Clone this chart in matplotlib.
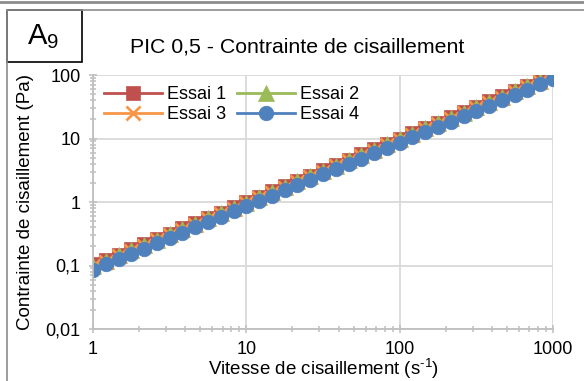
import matplotlib
matplotlib.use("Agg")
import matplotlib.pyplot as plt
from matplotlib.lines import Line2D
from matplotlib.patches import Rectangle
from matplotlib.ticker import LogLocator, FixedLocator, NullFormatter

plt.rcParams['font.family'] = ['Liberation Sans', 'DejaVu Sans']
plt.rcParams['mathtext.fontset'] = 'custom'
plt.rcParams['mathtext.rm'] = 'Liberation Sans'
plt.rcParams['mathtext.it'] = 'Liberation Sans'

# shear rate (1/s), about 12 points per decade
shear_rate = [1, 1.21, 1.47, 1.78, 2.15, 2.61, 3.16, 3.83, 4.64, 5.62, 6.81, 8.25,
              10, 12.1, 14.7, 17.8, 21.5, 26.1, 31.6, 38.3, 46.4, 56.2, 68.1, 82.5,
              100, 121, 147, 178, 215, 261, 316, 383, 464, 562, 681, 825, 1000]

# shear stress (Pa) per trial
essai_1 = [0.104, 0.122, 0.148, 0.179, 0.216, 0.262, 0.317, 0.384, 0.465, 0.563, 0.682, 0.826,
           1.0, 1.21, 1.47, 1.78, 2.15, 2.61, 3.16, 3.83, 4.64, 5.62, 6.81, 8.25,
           10.0, 12.1, 14.7, 17.8, 21.5, 26.1, 31.6, 38.3, 46.4, 56.2, 68.1, 82.5, 99.0]
essai_2 = [0.1, 0.119, 0.144, 0.174, 0.211, 0.256, 0.31, 0.375, 0.455, 0.551, 0.667, 0.809,
           0.98, 1.19, 1.44, 1.74, 2.11, 2.56, 3.1, 3.75, 4.55, 5.51, 6.67, 8.09,
           9.8, 11.9, 14.4, 17.4, 21.1, 25.6, 31.0, 37.5, 45.5, 55.1, 66.7, 80.9, 97.5]
essai_3 = [0.097, 0.115, 0.14, 0.169, 0.204, 0.248, 0.3, 0.364, 0.441, 0.534, 0.647, 0.784,
           0.95, 1.15, 1.4, 1.69, 2.04, 2.48, 3.0, 3.64, 4.41, 5.34, 6.47, 7.84,
           9.5, 11.5, 14.0, 16.9, 20.4, 24.8, 30.0, 36.4, 44.1, 53.4, 64.7, 78.4, 94.5]
essai_4 = [0.086, 0.104, 0.126, 0.153, 0.185, 0.224, 0.272, 0.329, 0.399, 0.483, 0.586, 0.71,
           0.86, 1.04, 1.26, 1.53, 1.85, 2.24, 2.72, 3.29, 3.99, 4.83, 5.86, 7.1,
           8.6, 10.4, 12.6, 15.3, 18.5, 22.4, 27.2, 32.9, 39.9, 48.3, 58.6, 71.0, 85.0]

x_ticks = [1, 10, 100, 1000]
x_tick_labels = ['1', '10', '100', '1000']
y_ticks = [0.01, 0.1, 1, 10, 100]
y_tick_labels = ['0,01', '0,1', '1', '10', '100']

series = [
    ('Essai 1', essai_1, '#C0504D', 's'),
    ('Essai 2', essai_2, '#9BBB59', '^'),
    ('Essai 3', essai_3, '#F79646', 'x'),
    ('Essai 4', essai_4, '#4F81BD', 'o'),
]

fig = plt.figure(figsize=(5.84, 3.81), dpi=100)
ax = fig.add_axes([93 / 584, 52 / 381, 460 / 584, 254 / 381])

def style(mk):
    if mk == 'x':
        return dict(ms=10, mew=2.0)
    if mk == '^':
        return dict(ms=11, mew=0.5)
    return dict(ms=10.5, mew=0.5)

for name, vals, col, mk in series:
    ax.plot(shear_rate, vals, color=col, lw=2.0, marker=mk, mec=col, mfc=col,
            label=name, **style(mk))

ax.set_xscale('log')
ax.set_yscale('log')
ax.set_xlim(1, 1000)
ax.set_ylim(0.01, 100)

ax.xaxis.set_major_locator(FixedLocator(x_ticks))
ax.set_xticklabels(x_tick_labels)
ax.yaxis.set_major_locator(FixedLocator(y_ticks))
ax.set_yticklabels(y_tick_labels)
ax.xaxis.set_minor_locator(LogLocator(base=10, subs=range(2, 10)))
ax.yaxis.set_minor_locator(LogLocator(base=10, subs=range(2, 10)))
ax.xaxis.set_minor_formatter(NullFormatter())
ax.yaxis.set_minor_formatter(NullFormatter())

ax.grid(True, which='major', color='#d9d9d9', lw=1.3)
ax.set_axisbelow(True)
for s in ['top', 'right']:
    ax.spines[s].set_visible(False)
for s in ['left', 'bottom']:
    ax.spines[s].set_color('#bfbfbf')
    ax.spines[s].set_linewidth(1.3)
ax.tick_params(which='both', direction='inout', color='#bfbfbf', width=1.1,
               labelsize=13, pad=6)
ax.tick_params(which='major', length=6)
ax.tick_params(which='minor', length=5)

ax.set_xlabel(r'Vitesse de cisaillement (s$^{\text{-1}}$)', fontsize=13.5,
              labelpad=-1)
ax.set_ylabel('Contrainte de cisaillement (Pa)', fontsize=13.5, labelpad=8)

# legend filled row by row: Essai 1, Essai 2 / Essai 3, Essai 4
order = [0, 2, 1, 3]
handles = [Line2D([], [], color=series[i][2], lw=2.0, marker=series[i][3],
                  mec=series[i][2], mfc=series[i][2], **style(series[i][3]))
           for i in order]
ax.legend(handles, [series[i][0] for i in order], ncol=2, loc='upper left',
          bbox_to_anchor=(0.0, 1.0), frameon=False, fontsize=13,
          handlelength=3.2, columnspacing=0.6, handletextpad=0.3,
          labelspacing=0.2, borderaxespad=0.2)

fig.text(0.509, 1 - 47 / 381, 'PIC 0,5 - Contrainte de cisaillement',
         ha='center', va='center', fontsize=15.3)

# outer frame lines
fig.add_artist(Line2D([0, 1], [1 - 2 / 381] * 2, color='#8c8c8c', lw=2))
fig.add_artist(Line2D([7 / 584, 1], [1 - 10 / 381] * 2, color='#8c8c8c', lw=1.2))
fig.add_artist(Line2D([7 / 584] * 2, [0, 1 - 10 / 381], color='#8c8c8c', lw=1.2))

# panel tag box
fig.add_artist(Rectangle((7 / 584, 1 - 62 / 381), 75 / 584, 52 / 381,
                         transform=fig.transFigure, fill=True, fc='white',
                         ec='black', lw=1.2))
fig.text(43 / 584, 1 - 37 / 381, 'A$_9$', ha='center', va='center', fontsize=21)

fig.savefig('out.png', dpi=100)
